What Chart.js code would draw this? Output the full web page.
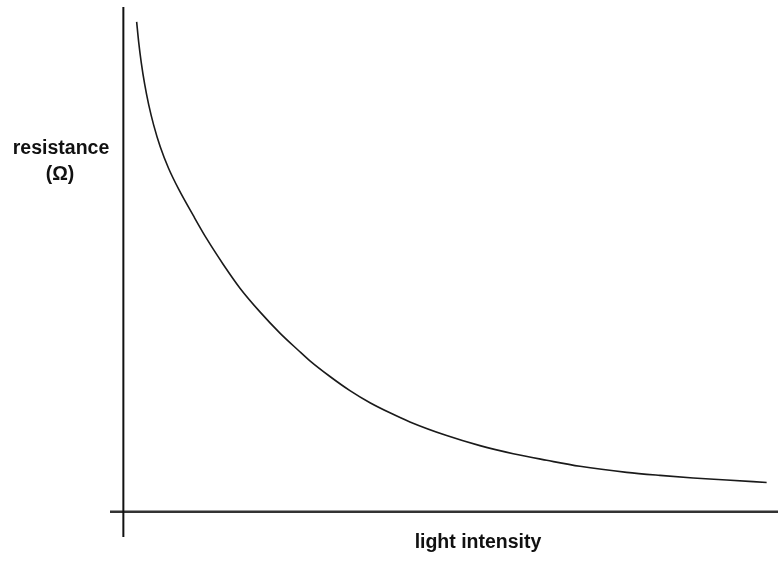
<!DOCTYPE html>
<html>
<head>
<meta charset="utf-8">
<script src="https://cdn.jsdelivr.net/npm/chart.js@4/dist/chart.umd.min.js"></script>
<style>
  html, body { margin: 0; padding: 0; background: #fff; }
  #wrap { width: 780px; height: 563px; position: relative; }
</style>
</head>
<body>
<div id="wrap"><canvas id="ldrChart"></canvas></div>
<script>
// curve (arbitrary units, axes cross at 0,0)
const lightIntensity = [1.99, 2.29, 2.68, 3.19, 3.79, 4.54, 5.52, 6.78, 8.28, 10.46, 12.47, 14.96, 17.46, 20.45, 23.44, 26.18, 27.93, 30.93, 33.92, 36.92, 39.91, 42.90, 48.40, 53.38, 58.37, 63.37, 68.35, 75.34, 80.33, 85.31, 90.31, 96.30];
const resistance     = [97.05, 93.1, 89.0, 84.7, 80.65, 76.6, 72.3, 68.0, 63.9, 58.7, 54.1, 49.0, 44.3, 39.6, 35.4, 32.0, 29.9, 26.8, 24.0, 21.6, 19.6, 17.8, 15.1, 13.1, 11.5, 10.2, 9.0, 7.8, 7.2, 6.7, 6.3, 5.8];

const yLabel = ['resistance', '(\u03A9)'];
const xLabel = 'light intensity';

const points = lightIntensity.map((x, i) => ({ x: x, y: resistance[i] }));

// draws the two axis lines and the bold labels
const axesPlugin = {
    id: 'axesPlugin',
    beforeDatasetsDraw(chart) {
        const ctx = chart.ctx;
        const area = chart.chartArea;
        const x0 = chart.scales.x.getPixelForValue(0);
        const y0 = chart.scales.y.getPixelForValue(0);
        ctx.save();
        // x axis
        ctx.strokeStyle = '#333';
        ctx.lineWidth = 2.5;
        ctx.beginPath();
        ctx.moveTo(area.left, y0);
        ctx.lineTo(area.right, y0);
        ctx.stroke();
        // y axis
        ctx.strokeStyle = '#111';
        ctx.lineWidth = 2;
        ctx.beginPath();
        ctx.moveTo(x0, area.top);
        ctx.lineTo(x0, area.bottom);
        ctx.stroke();

        ctx.fillStyle = '#111';
        ctx.font = 'bold 19.5px "Liberation Sans", Arial, sans-serif';
        ctx.textAlign = 'center';
        ctx.textBaseline = 'middle';
        ctx.fillText(yLabel[0], 61, 149);
        ctx.fillText(yLabel[1], 60, 175);
        ctx.fillText(xLabel, 478, 543);
        ctx.restore();
    }
};

new Chart(document.getElementById('ldrChart').getContext('2d'), {
    type: 'line',
    data: {
        datasets: [{
            data: points,
            borderColor: '#1a1a1a',
            borderWidth: 1.6,
            pointRadius: 0,
            fill: false,
            cubicInterpolationMode: 'monotone'
        }]
    },
    options: {
        responsive: true,
        maintainAspectRatio: false,
        animation: false,
        layout: { padding: { left: 110, right: 2, top: 7, bottom: 26 } },
        plugins: { legend: { display: false }, tooltip: { enabled: false } },
        scales: {
            x: { type: 'linear', min: -2, max: 98, display: false },
            y: { type: 'linear', min: -5, max: 100, display: false }
        }
    },
    plugins: [axesPlugin]
});
</script>
</body>
</html>
